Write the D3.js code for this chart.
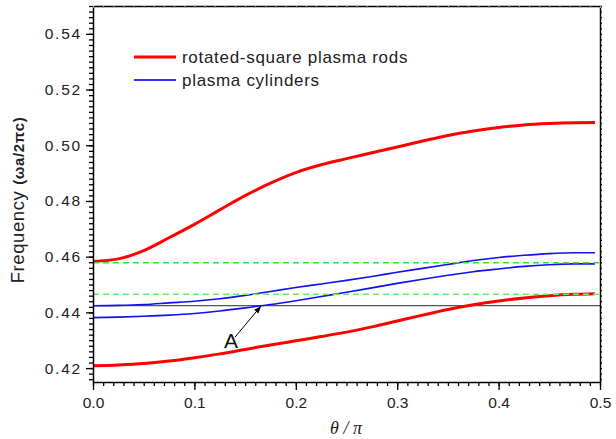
<!DOCTYPE html>
<html><head><meta charset="utf-8">
<script src="https://cdn.jsdelivr.net/npm/d3@7"></script>
<style>
body{margin:0;background:#fff;}
svg{display:block;font-family:"Liberation Sans",Arial,sans-serif;}
</style></head>
<body><svg id="c" width="616" height="439"></svg>
<script>
// ---- data ----
const theta = [0,0.025,0.05,0.075,0.1,0.125,0.15,0.175,0.2,0.225,0.25,0.275,0.3,0.325,0.35,0.375,0.4,0.425,0.45,0.475,0.495];
const redUpper = [0.4583,0.4592,0.4622,0.4668,0.4716,0.4768,0.4819,0.4864,0.4902,0.4930,0.4952,0.4973,0.4994,0.5015,0.5035,0.5051,0.5064,0.5073,0.5078,0.5081,0.5082];
const redLower = [0.4208,0.4211,0.4216,0.4225,0.4237,0.4251,0.4267,0.4283,0.4298,0.4313,0.4329,0.4348,0.4369,0.4390,0.4410,0.4427,0.4441,0.4452,0.4460,0.4465,0.4467];
const blueUpper = [0.4424,0.4425,0.4428,0.4434,0.4440,0.4449,0.4461,0.4475,0.4489,0.4502,0.4515,0.4529,0.4544,0.4558,0.4572,0.4586,0.4597,0.4605,0.4611,0.4614,0.4614];
const blueLower = [0.4381,0.4383,0.4386,0.4390,0.4396,0.4405,0.4416,0.4428,0.4442,0.4457,0.4472,0.4488,0.4504,0.4519,0.4533,0.4546,0.4556,0.4565,0.4571,0.4574,0.4574];
const greenLevels = [0.4578, 0.4465];
const blackLevel = 0.4424;
const xTicks = [0,0.1,0.2,0.3,0.4,0.5];
const yTicks = [0.42,0.44,0.46,0.48,0.50,0.52,0.54];
const legendLabels = ["rotated-square plasma rods","plasma cylinders"];
const arrowTip = [0.166, 0.4424];
const arrowTail = [0.140, 0.4311];
const labelA = {x:0.136, y:0.4272, text:"A"};

// ---- layout ----
const svg = d3.select("#c");
const L=93, R=600, T=6, B=382;
const x = d3.scaleLinear().domain([0,0.5]).range([L,R]);
const y = d3.scaleLinear().domain([0.415,0.55]).range([B,T]);

svg.append("defs").append("marker").attr("id","ah").attr("viewBox","0 0 10 10")
  .attr("refX",10).attr("refY",5).attr("markerWidth",8).attr("markerHeight",8)
  .attr("orient","auto").attr("markerUnits","userSpaceOnUse")
  .append("path").attr("d","M0,1.5 L10,5 L0,8.5 Z").attr("fill","#000");

// curves
const line = d3.line().x((d,i)=>x(theta[i])).y(d=>y(d)).curve(d3.curveMonotoneX);
svg.append("line").attr("x1",x(0)).attr("x2",x(0.5)).attr("y1",y(blackLevel)).attr("y2",y(blackLevel))
  .attr("stroke","#555").attr("stroke-width",1.3);
[blueUpper,blueLower].forEach(s=>svg.append("path").attr("d",line(s)).attr("fill","none")
  .attr("stroke","#1010f0").attr("stroke-width",1.6));
[redUpper,redLower].forEach(s=>svg.append("path").attr("d",line(s)).attr("fill","none")
  .attr("stroke","#ff0000").attr("stroke-width",3));
greenLevels.forEach((g,i)=>svg.append("line").attr("x1",x(0)).attr("x2",x(0.5)).attr("y1",y(g)).attr("y2",y(g))
  .attr("stroke", i===0?"#22ee22":"#66ee66").attr("stroke-width",1.5).attr("stroke-dasharray","6,4"));

// arrow + label
svg.append("line").attr("x1",x(arrowTail[0])).attr("y1",y(arrowTail[1]))
  .attr("x2",x(arrowTip[0])).attr("y2",y(arrowTip[1])).attr("stroke","#000").attr("stroke-width",1)
  .attr("marker-end","url(#ah)");
svg.append("text").attr("x",x(labelA.x)).attr("y",y(labelA.y)).attr("text-anchor","middle")
  .attr("font-size",21).attr("fill","#111").text(labelA.text);

// axes
const xMinor = d3.range(0,0.5001,0.01);
const yMinor = d3.range(0.416,0.5501,0.002);
const gx = svg.append("g").attr("transform",`translate(0,${B})`);
gx.call(d3.axisBottom(x).tickValues(xMinor).tickSize(4).tickFormat(""));
gx.call(g=>g.select(".domain").remove());
const gx2 = svg.append("g").attr("transform",`translate(0,${B})`)
  .call(d3.axisBottom(x).tickValues(xTicks).tickSize(8).tickSizeOuter(0).tickPadding(7).tickFormat(d3.format(".1f")));
gx2.selectAll("text").attr("font-size",15.5).attr("fill","#222");

const gy = svg.append("g").attr("transform",`translate(${L},0)`);
gy.call(d3.axisLeft(y).tickValues(yMinor).tickSize(4).tickFormat(""));
gy.call(g=>g.select(".domain").remove());
const gy2 = svg.append("g").attr("transform",`translate(${L},0)`)
  .call(d3.axisLeft(y).tickValues(yTicks).tickSize(7).tickSizeOuter(0).tickPadding(4).tickFormat(d3.format(".2f")));
gy2.selectAll("text").attr("font-size",15.5).attr("fill","#222").attr("letter-spacing","1.8px");

// right & top borders with small ticks
svg.append("g").attr("transform",`translate(${R},0)`)
  .call(d3.axisRight(y).tickValues(yMinor).tickSize(2).tickSizeOuter(0).tickFormat(""));
const gt = svg.append("g").attr("transform",`translate(0,${T})`)
  .call(d3.axisTop(x).tickValues(xMinor).tickSize(-2).tickSizeOuter(0).tickFormat(""));
gt.selectAll(".tick line").attr("stroke","#999");
svg.selectAll(".domain").attr("stroke","#000").attr("stroke-width",1.5);
svg.selectAll(".tick line").filter(function(){return !this.getAttribute("stroke")||this.getAttribute("stroke")==="currentColor";}).attr("stroke-width",1.3);

// axis titles
const yt = svg.append("text").attr("transform",`translate(24,200) rotate(-90)`).attr("text-anchor","middle").attr("fill","#222");
yt.append("tspan").attr("font-size",18.5).attr("letter-spacing","0.6px").text("Frequency ");
yt.append("tspan").attr("font-size",15).attr("font-weight","bold").attr("letter-spacing","0.6px").text("(ωa/2πc)");
svg.append("text").attr("x",346).attr("y",434).attr("text-anchor","middle")
  .attr("font-family","'Liberation Serif','Times New Roman',serif").attr("font-style","italic")
  .attr("font-size",18).attr("fill","#222").text("θ / π");

// legend
const lg = svg.append("g");
const legColors=["#ff0000","#3030ff"], legW=[3,1.8], legY=[57,80];
legendLabels.forEach((t,i)=>{
  lg.append("line").attr("x1",134).attr("x2",176).attr("y1",legY[i]).attr("y2",legY[i])
    .attr("stroke",legColors[i]).attr("stroke-width",legW[i]);
  lg.append("text").attr("x",182).attr("y",legY[i]+6).attr("font-size",17).attr("letter-spacing","0.7px")
    .attr("fill","#222").text(t);
});
</script></body></html>
